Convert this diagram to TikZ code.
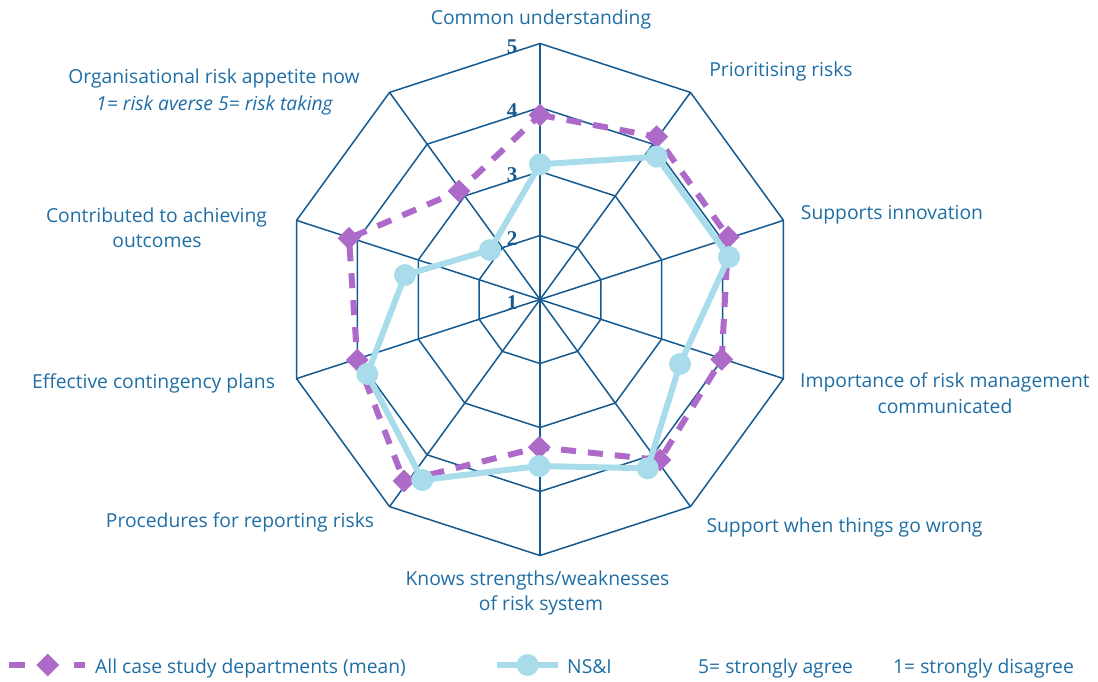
\documentclass[tikz,border=0pt]{standalone}
\usepackage{fontspec}
\setmainfont{Open Sans}
\newfontfamily\numfont{Liberation Serif}
\usetikzlibrary{shapes.geometric}
\definecolor{gridc}{RGB}{20,90,145}
\definecolor{txtc}{RGB}{30,110,165}
\definecolor{meanc}{RGB}{174,106,200}
\definecolor{nsic}{RGB}{168,220,234}
\begin{document}
\begin{tikzpicture}[x=1pt,y=-1pt,
  gridline/.style={draw=gridc,line width=1.5pt,line join=miter},
  meanline/.style={draw=meanc,line width=6pt,dash pattern=on 15pt off 12pt},
  nsiline/.style={draw=nsic,line width=6pt,line join=round},
  dmd/.style={diamond,fill=meanc,minimum size=23pt,inner sep=0pt},
  dot/.style={circle,fill=nsic,minimum size=22pt,inner sep=0pt},
  lab/.style={text=txtc,font=\fontsize{19.3}{23}\selectfont,inner sep=0pt,anchor=base},
  num/.style={text=gridc,font=\numfont\bfseries\fontsize{21}{23}\selectfont,inner sep=0pt,anchor=base}]
\useasboundingbox (0,0) rectangle (1098,681);
% grid
\begin{scope}[shift={(540,299.5)},y=1pt]
  \foreach \r in {64,128,192,256}
    \draw[gridline] (90:\r) \foreach \k in {1,...,9} { -- ({90+36*\k}:\r) } -- cycle;
  \foreach \k in {0,...,9}
    \draw[gridline] (0,0) -- ({90+36*\k}:256);
\end{scope}
% scale numbers
\node[num] (n1) at (512,309.5) {1};
\node[num] (n2) at (512,245.5) {2};
\node[num] (n3) at (512,181.5) {3};
\node[num] (n4) at (512,117.5) {4};
\node[num] (n5) at (512,53.5) {5};
% mean series
\coordinate (m0) at (540,115);
\coordinate (m1) at (656.7,136.7);
\coordinate (m2) at (728.3,237);
\coordinate (m3) at (721.7,359.3);
\coordinate (m4) at (660,460);
\coordinate (m5) at (539.3,447.3);
\coordinate (m6) at (404,481);
\coordinate (m7) at (357.3,360);
\coordinate (m8) at (349,238.3);
\coordinate (m9) at (459,191);
\draw[meanline] (m0) -- (m1) -- (m2) -- (m3) -- (m4) -- (m5) -- (m6) -- (m7) -- (m8) -- (m9) -- cycle;
\foreach \i in {0,...,9} \node[dmd] (md\i) at (m\i) {};
% NS&I series
\coordinate (s0) at (540,164.3);
\coordinate (s1) at (656.7,156.7);
\coordinate (s2) at (729,257);
\coordinate (s3) at (680,364);
\coordinate (s4) at (647.7,468.3);
\coordinate (s5) at (539.3,466);
\coordinate (s6) at (422.3,480);
\coordinate (s7) at (367.3,374);
\coordinate (s8) at (405,275);
\coordinate (s9) at (490,250);
\draw[nsiline] (s0) -- (s1) -- (s2) -- (s3) -- (s4) -- (s5) -- (s6) -- (s7) -- (s8) -- (s9) -- cycle;
\foreach \i in {0,...,9} \node[dot] (sd\i) at (s\i) {};
% axis labels
\node[lab] (a0) at (541,24) {Common understanding};
\node[lab] (a1) at (781,76) {Prioritising risks};
\node[lab] (a2) at (892,219) {Supports innovation};
\node[lab] (a3a) at (945,387) {Importance of risk management};
\node[lab] (a3b) at (945,413) {communicated};
\node[lab] (a4) at (844.5,532) {Support when things go wrong};
\node[lab] (a5a) at (537.5,585) {Knows strengths/weaknesses};
\node[lab] (a5b) at (541,610) {of risk system};
\node[lab] (a6) at (240,527) {Procedures for reporting risks};
\node[lab] (a7) at (153.5,388) {Effective contingency plans};
\node[lab] (a8a) at (156.5,222) {Contributed to achieving};
\node[lab] (a8b) at (157,247) {outcomes};
\node[lab] (a9a) at (214,83) {Organisational risk appetite now};
\node[lab] (a9b) at (214.5,110) {\itshape 1= risk averse 5= risk taking};
% legend
\coordinate (la) at (9,665);
\coordinate (lb) at (85,665);
\draw[draw=meanc,line width=6pt,dash pattern=on 16pt off 49pt on 11pt] (la) -- (lb);
\node[dmd] (ld) at (47.7,665) {};
\node[lab,anchor=base west] (lt1) at (95,673) {All case study departments (mean)};
\coordinate (lc) at (497,665);
\coordinate (ldd) at (558,665);
\draw[draw=nsic,line width=6pt] (lc) -- (ldd);
\node[dot] (lo) at (527.6,665) {};
\node[lab,anchor=base west] (lt2) at (567,673) {NS\&I};
\node[lab,anchor=base west] (lt3) at (698,673) {5= strongly agree};
\node[lab,anchor=base west] (lt4) at (893,673) {1= strongly disagree};
\end{tikzpicture}
\end{document}
